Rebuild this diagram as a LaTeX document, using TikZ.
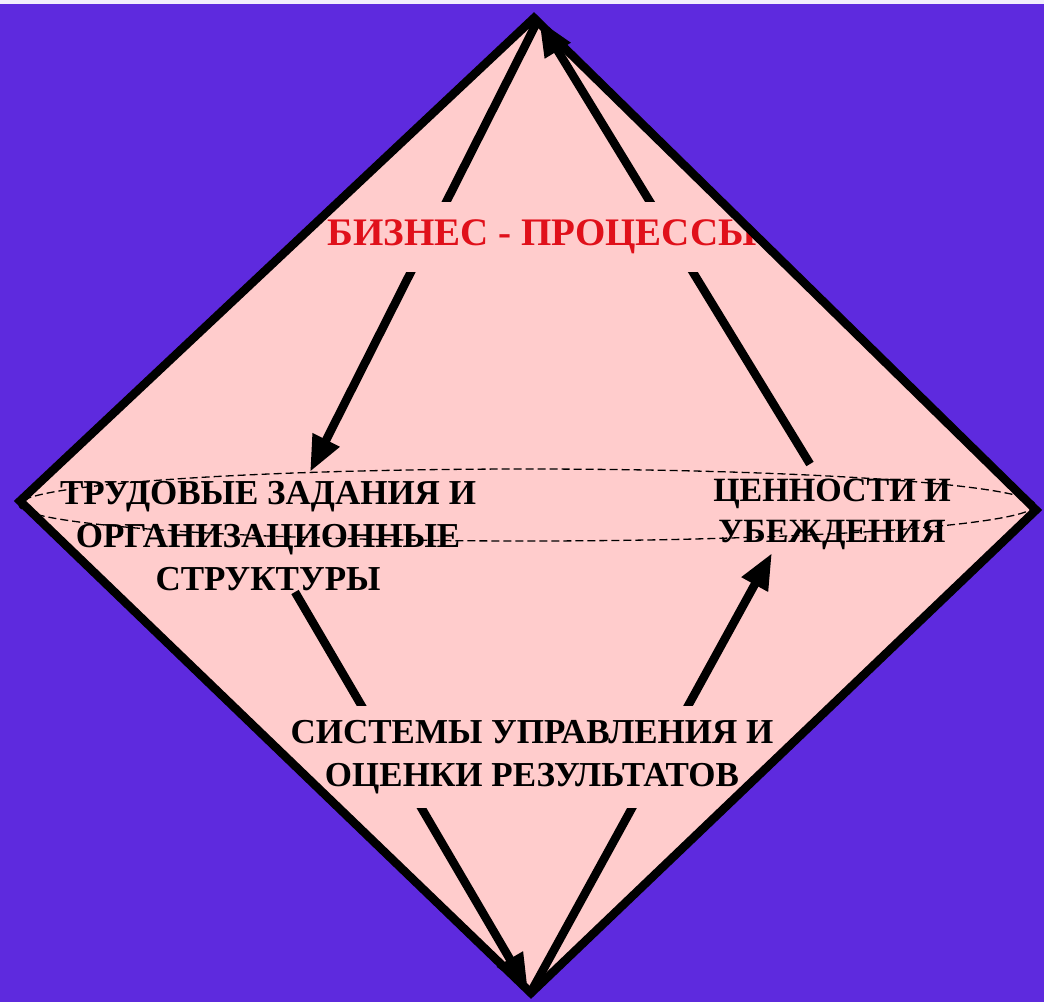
\documentclass[tikz,border=0pt]{standalone}
\usepackage{fontspec}
\setmainfont{Liberation Serif}
\usetikzlibrary{arrows.meta}
\definecolor{bgpurple}{HTML}{5E2ADE}
\definecolor{diapink}{HTML}{FFCCCC}
\definecolor{lblred}{HTML}{E0101A}
\tikzset{
  bigarrow/.style={line width=8.5pt,-{Triangle[length=36pt,width=28pt]}},
  lbl/.style={font=\bfseries\fontsize{35}{43}\selectfont,align=center,inner sep=0pt},
  masklbl/.style={lbl,fill=diapink,inner xsep=2pt,inner ysep=14pt},
}
\begin{document}
\begin{tikzpicture}[x=1pt,y=-1pt]
\useasboundingbox (0,0) rectangle (1044,1002);
\fill[white!92!bgpurple] (0,0) rectangle (1044,1002);
\fill[bgpurple] (0,4) rectangle (1044,1002);
\coordinate (T) at (534,18);
\coordinate (L) at (20,501);
\coordinate (R) at (1036,510);
\coordinate (B) at (531,993);
\fill[diapink] (T) -- (R) -- (B) -- (L) -- cycle;
% arrows
\coordinate (a1s) at (536,24);
\coordinate (a1e) at (310,472);
\coordinate (a2s) at (810,464);
\coordinate (a2e) at (539,20);
\coordinate (a3s) at (295,592);
\coordinate (a3e) at (528,990);
\coordinate (a4s) at (532,990);
\coordinate (a4e) at (772,553);
\draw[bigarrow] (a1s) -- (a1e);
\draw[bigarrow] (a2s) -- (a2e);
\draw[bigarrow] (a3s) -- (a3e);
\draw[bigarrow] (a4s) -- (a4e);
% labels that interrupt arrows
\begin{scope}
\clip (T) -- (R) -- (B) -- (L) -- cycle;
\node[masklbl,text=lblred,font=\bfseries\fontsize{39}{43}\selectfont,inner ysep=18pt] (biz) at (542,237) {БИЗНЕС - ПРОЦЕССЫ};
\node[masklbl] (sys) at (532,757) {СИСТЕМЫ УПРАВЛЕНИЯ И\\ОЦЕНКИ РЕЗУЛЬТАТОВ};
\end{scope}
% diamond outline
\draw[line width=8.5pt,line join=miter] (T) -- (R) -- (B) -- (L) -- cycle;
% other labels
\node[lbl] (trud) at (268,536) {ТРУДОВЫЕ ЗАДАНИЯ И\\ОРГАНИЗАЦИОННЫЕ\\СТРУКТУРЫ};
\node[lbl,font=\bfseries\fontsize{34}{41}\selectfont] (cen) at (832,514) {ЦЕННОСТИ И\\УБЕЖДЕНИЯ};
% dashed ellipse
\draw[line width=1.3pt,dash pattern=on 8pt off 4pt] (527,505) ellipse [x radius=508, y radius=36];
\end{tikzpicture}
\end{document}
